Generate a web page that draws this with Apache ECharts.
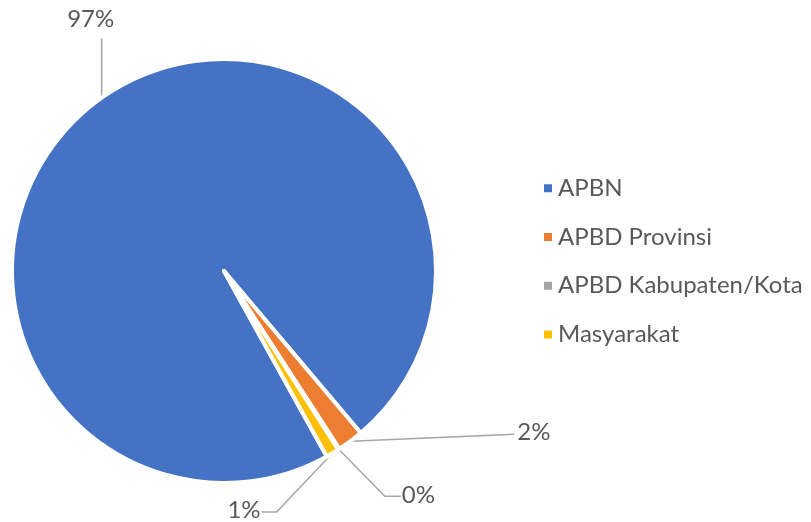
<!DOCTYPE html>
<html>
<head>
<meta charset="utf-8">
<script src="https://cdn.jsdelivr.net/npm/echarts@6/dist/echarts.min.js"></script>
<style>
  html, body { margin: 0; padding: 0; background: #fff; }
  #chart { width: 811px; height: 522px; }
</style>
</head>
<body>
<div id="chart"></div>
<script>
// data
var categories = ['APBN', 'APBD Provinsi', 'APBD Kabupaten/Kota', 'Masyarakat'];
var shares = [96.9, 2.0, 0.1, 1.0];
var colors = ['#4472C4', '#ED7D31', '#A5A5A5', '#FFC000'];

var font = 'Lato, "Noto Sans", sans-serif';

// where each label goes, relative to the point on the rim
function placeLabel(params) {
  var p = params.labelLinePoints[0];
  var i = params.dataIndex;
  if (i === 0) {
    return {
      x: p[0] - 13, y: p[1] - 77, align: 'center', verticalAlign: 'middle',
      labelLinePoints: [p, [p[0] - 2, p[1] - 1], [p[0] - 2, p[1] - 58]]
    };
  }
  if (i === 1) {
    return {
      x: p[0] + 167, y: p[1] - 9, align: 'left', verticalAlign: 'middle',
      labelLinePoints: [p, [p[0] + 1, p[1]], [p[0] + 164, p[1] - 7]]
    };
  }
  if (i === 2) {
    return {
      x: p[0] + 63, y: p[1] + 46, align: 'left', verticalAlign: 'middle',
      labelLinePoints: [p, [p[0] + 46, p[1] + 47], [p[0] + 62, p[1] + 47]]
    };
  }
  return {
    x: p[0] - 72, y: p[1] + 57, align: 'right', verticalAlign: 'middle',
    labelLinePoints: [p, [p[0] - 56, p[1] + 59], [p[0] - 71, p[1] + 59]]
  };
}

var chart = echarts.init(document.getElementById('chart'));
chart.setOption({
  animation: false,
  color: colors,
  legend: {
    orient: 'vertical',
    left: 537,
    top: 169,
    itemWidth: 10,
    itemHeight: 10,
    itemGap: 20,
    icon: 'rect',
    data: categories,
    textStyle: { color: '#595959', fontSize: 24, fontFamily: font, lineHeight: 28.7 }
  },
  series: [{
    type: 'pie',
    center: [224, 271],
    radius: 212,
    startAngle: -61,
    clockwise: true,
    percentPrecision: 0,
    avoidLabelOverlap: false,
    itemStyle: { borderColor: '#fff', borderWidth: 4 },
    label: {
      show: true,
      position: 'outside',
      formatter: '{d}%',
      color: '#595959',
      fontSize: 24,
      fontFamily: font
    },
    labelLine: {
      show: true,
      length: 10,
      length2: 10,
      lineStyle: { color: '#A6A6A6', width: 1.5 }
    },
    labelLayout: placeLabel,
    emphasis: { disabled: true },
    data: categories.map(function (name, i) {
      return { name: name, value: shares[i] };
    })
  }]
});
</script>
</body>
</html>
